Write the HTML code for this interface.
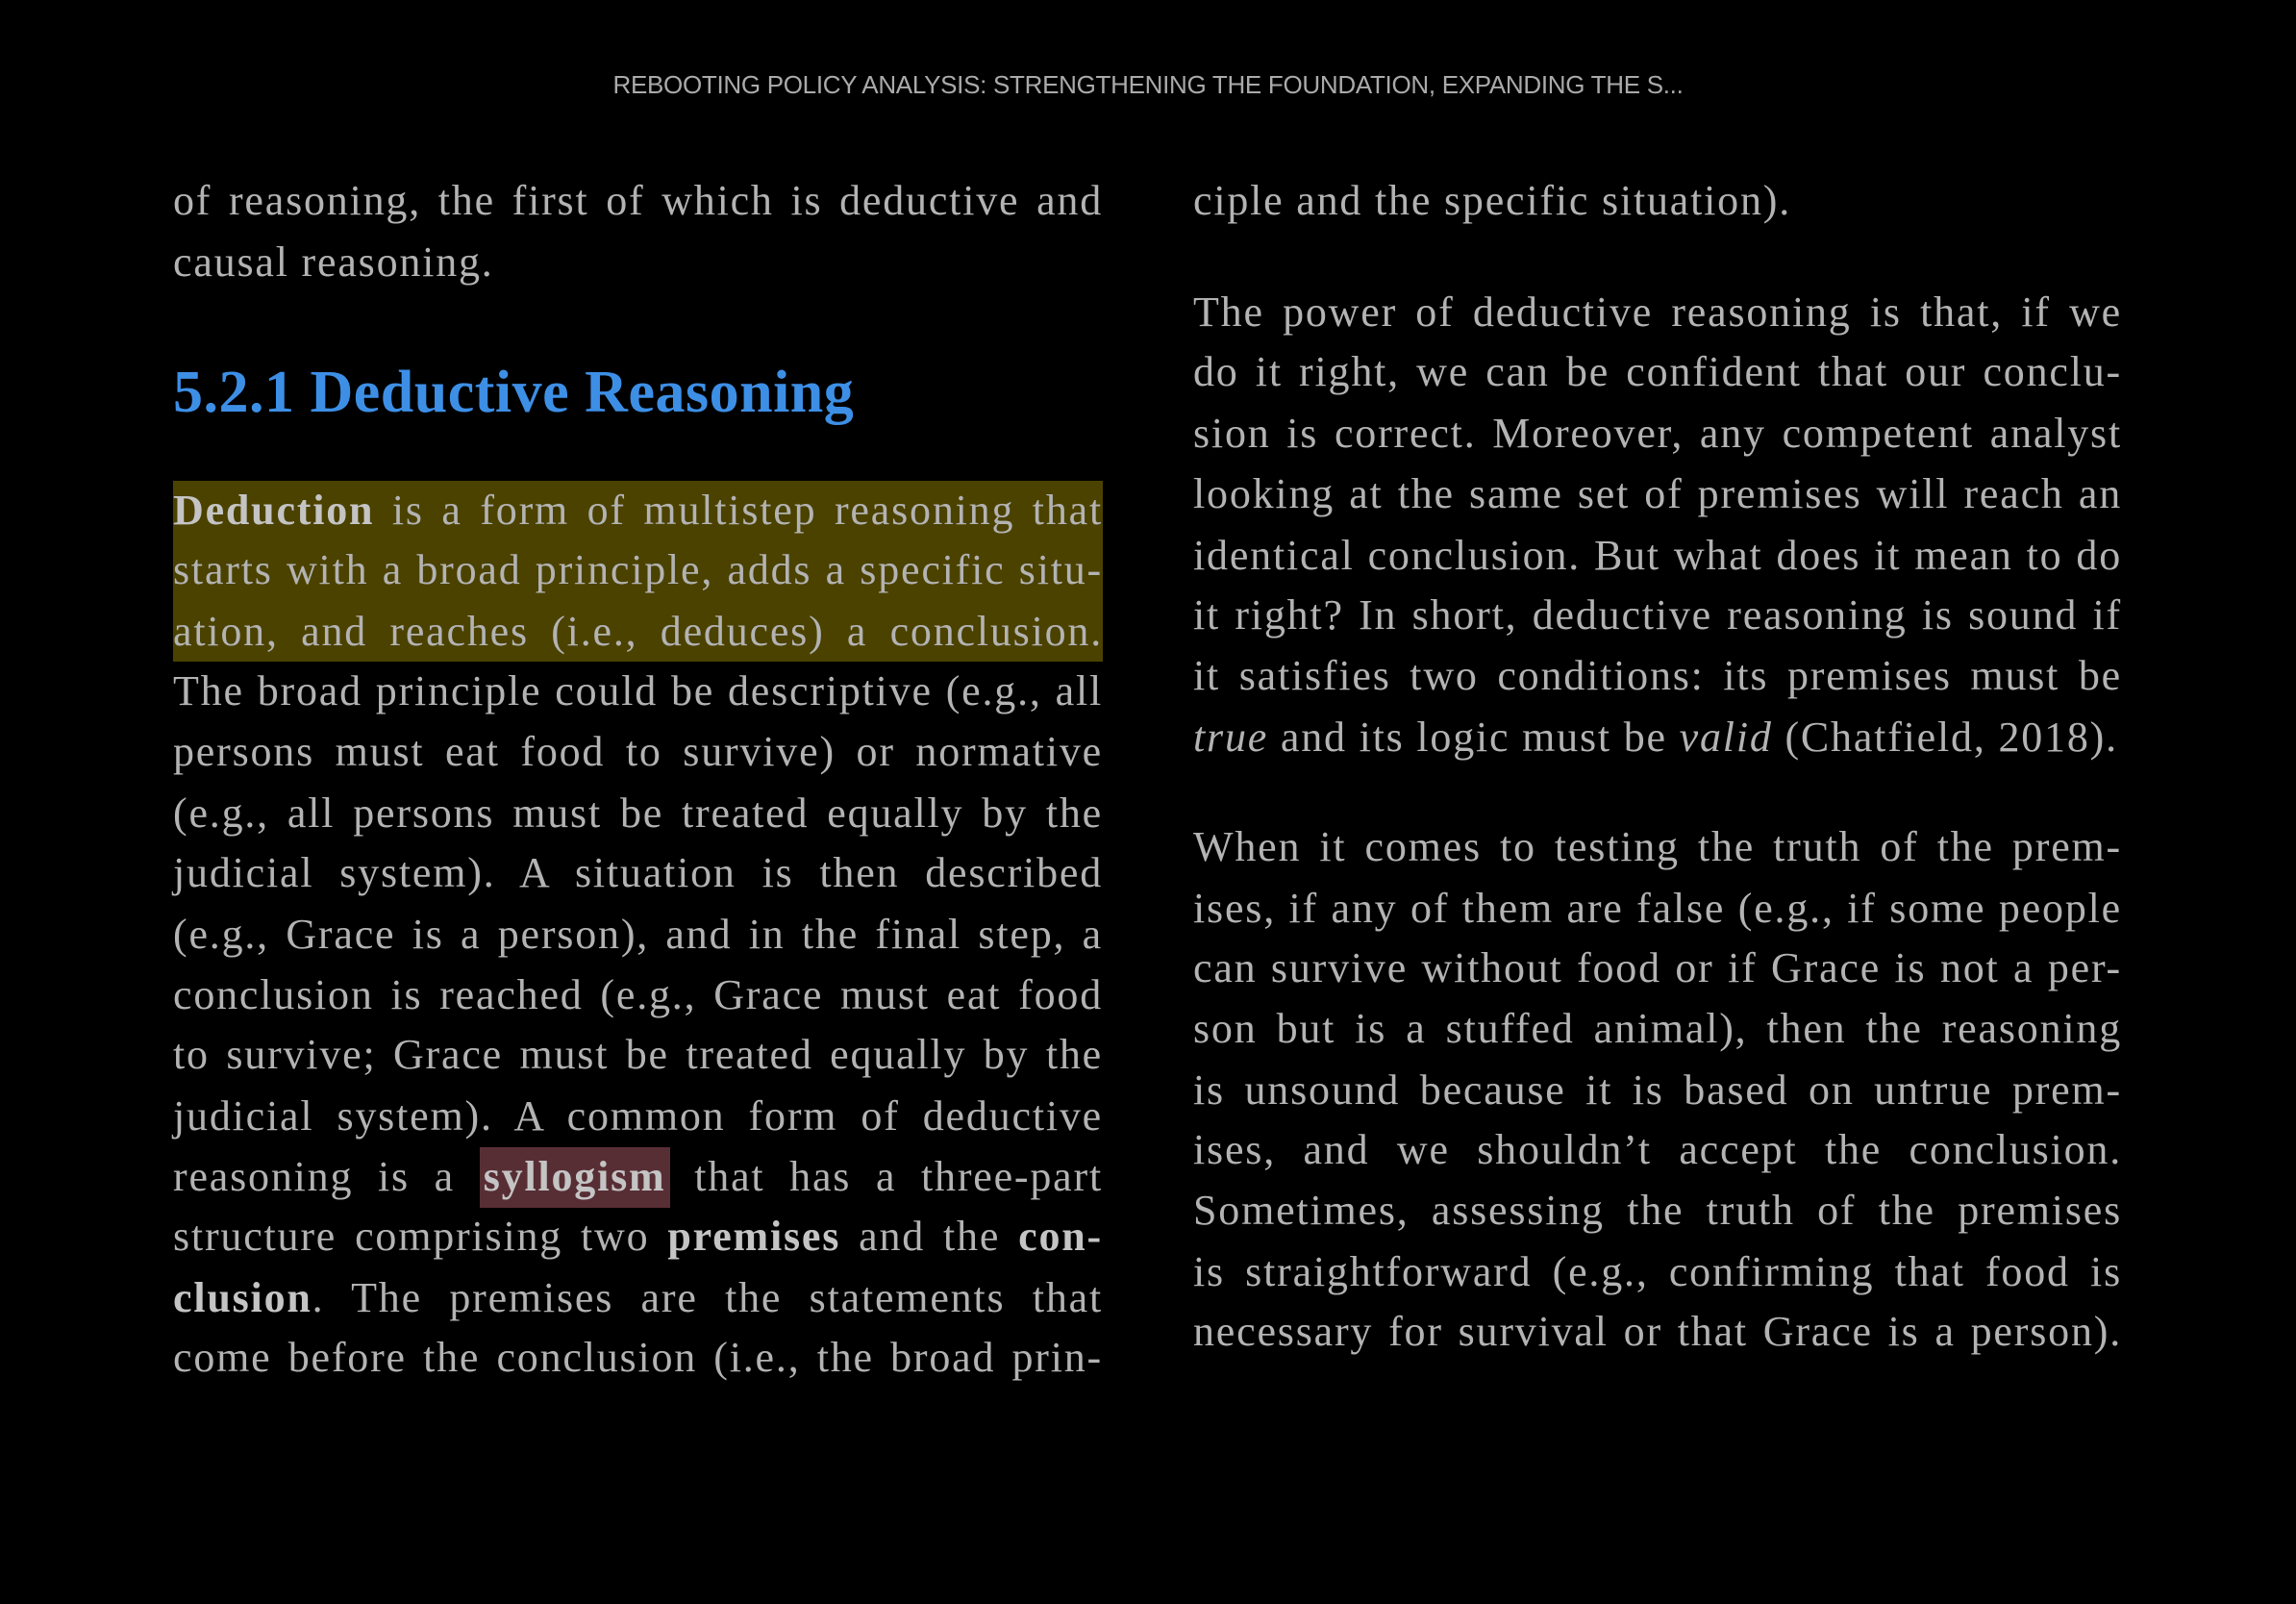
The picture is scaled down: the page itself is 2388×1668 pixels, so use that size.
<!DOCTYPE html>
<html><head><meta charset="utf-8"><style>
html,body{margin:0;padding:0;background:#000;}
body{width:2388px;height:1668px;position:relative;overflow:hidden;font-family:"Liberation Serif",serif;color:#b3b3b3;}
.h{position:absolute;top:73px;left:0;width:2388px;text-align:center;font-family:"Liberation Sans",sans-serif;font-size:26px;color:#aaa;letter-spacing:-0.3px;}
.l,.r{position:absolute;height:63px;line-height:63px;font-size:44px;letter-spacing:1.8px;white-space:nowrap;text-align:justify;text-align-last:justify;}
.l{left:180px;width:967px;}
.r{left:1241px;width:966px;}
.e{text-align:left;text-align-last:left;}
b{color:#c4c4c4;}
.hd{position:absolute;left:180px;top:370px;font-size:62px;font-weight:bold;color:#3d8fe6;line-height:76px;white-space:nowrap;letter-spacing:0.5px;}
.yh{position:absolute;left:180px;top:500px;width:967px;height:188px;background:#4b4200;}
.sy{background:#582e35;padding:6px 4px 8px;}
</style></head><body>
<div class="h">REBOOTING POLICY ANALYSIS: STRENGTHENING THE FOUNDATION, EXPANDING THE S...</div>
<div class="yh"></div>
<div class="l" style="top:177px">of reasoning, the first of which is deductive and</div>
<div class="l e" style="top:241px">causal reasoning.</div>
<div class="hd">5.2.1 Deductive Reasoning</div>
<div class="l" style="top:499px"><b>Deduction</b> is a form of multistep reasoning that</div>
<div class="l" style="top:561px">starts with a broad principle, adds a specific situ-</div>
<div class="l" style="top:625px">ation, and reaches (i.e., deduces) a conclusion.</div>
<div class="l" style="top:687px">The broad principle could be descriptive (e.g., all</div>
<div class="l" style="top:750px">persons must eat food to survive) or normative</div>
<div class="l" style="top:814px">(e.g., all persons must be treated equally by the</div>
<div class="l" style="top:876px">judicial system). A situation is then described</div>
<div class="l" style="top:940px">(e.g., Grace is a person), and in the final step, a</div>
<div class="l" style="top:1003px">conclusion is reached (e.g., Grace must eat food</div>
<div class="l" style="top:1065px">to survive; Grace must be treated equally by the</div>
<div class="l" style="top:1129px">judicial system). A common form of deductive</div>
<div class="l" style="top:1192px">reasoning is a <b class="sy">syllogism</b> that has a three-part</div>
<div class="l" style="top:1254px">structure comprising two <b>premises</b> and the <b>con-</b></div>
<div class="l" style="top:1318px"><b>clusion</b>. The premises are the statements that</div>
<div class="l" style="top:1380px">come before the conclusion (i.e., the broad prin-</div>

<div class="r e" style="top:177px">ciple and the specific situation).</div>
<div class="r" style="top:293px">The power of deductive reasoning is that, if we</div>
<div class="r" style="top:355px">do it right, we can be confident that our conclu-</div>
<div class="r" style="top:419px">sion is correct. Moreover, any competent analyst</div>
<div class="r" style="top:482px">looking at the same set of premises will reach an</div>
<div class="r" style="top:546px">identical conclusion. But what does it mean to do</div>
<div class="r" style="top:608px">it right? In short, deductive reasoning is sound if</div>
<div class="r" style="top:671px">it satisfies two conditions: its premises must be</div>
<div class="r e" style="top:735px"><i>true</i> and its logic must be <i>valid</i> (Chatfield, 2018).</div>
<div class="r" style="top:849px">When it comes to testing the truth of the prem-</div>
<div class="r" style="top:913px">ises, if any of them are false (e.g., if some people</div>
<div class="r" style="top:975px">can survive without food or if Grace is not a per-</div>
<div class="r" style="top:1038px">son but is a stuffed animal), then the reasoning</div>
<div class="r" style="top:1102px">is unsound because it is based on untrue prem-</div>
<div class="r" style="top:1164px">ises, and we shouldn’t accept the conclusion.</div>
<div class="r" style="top:1227px">Sometimes, assessing the truth of the premises</div>
<div class="r" style="top:1291px">is straightforward (e.g., confirming that food is</div>
<div class="r" style="top:1353px">necessary for survival or that Grace is a person).</div>
</body></html>
